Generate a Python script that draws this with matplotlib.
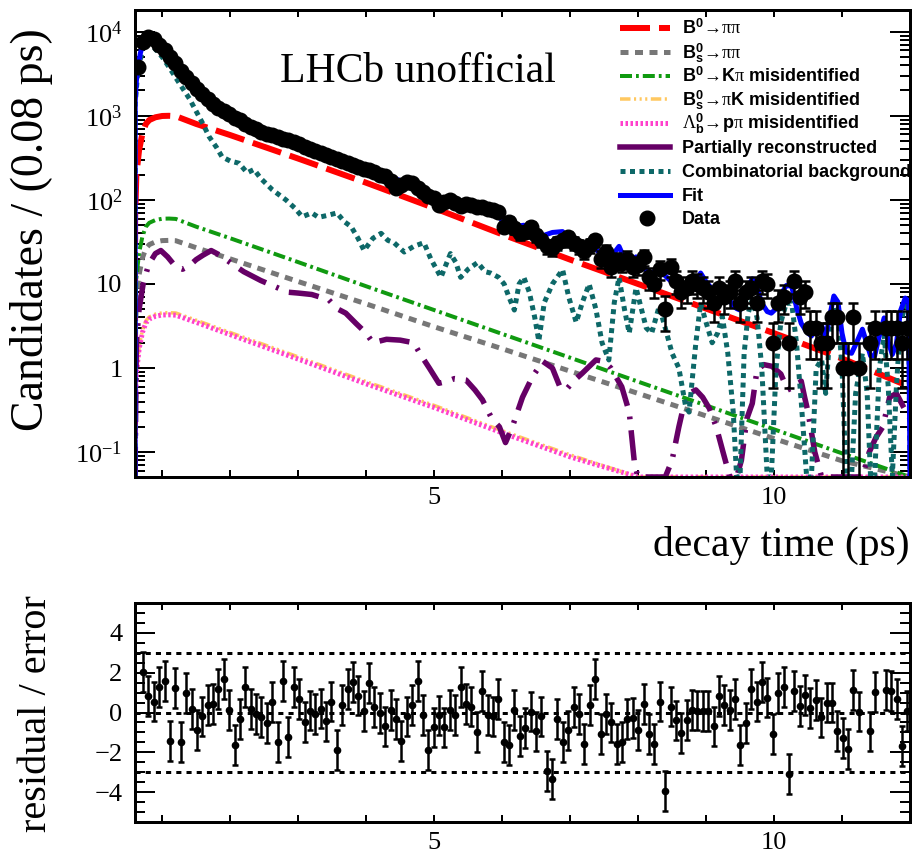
import numpy as np
import matplotlib
matplotlib.use("Agg")
import matplotlib.pyplot as plt
from matplotlib.lines import Line2D
from matplotlib.ticker import MultipleLocator, FuncFormatter, LogLocator, NullFormatter

plt.rcParams.update({
    "font.family": "serif",
    "font.serif": ["Liberation Serif", "DejaVu Serif"],
    "font.sans-serif": ["Liberation Sans", "DejaVu Sans"],
    "mathtext.fontset": "custom",
    "mathtext.rm": "Liberation Serif",
    "mathtext.it": "Liberation Serif:italic",
    "mathtext.bf": "Liberation Sans:bold",
    "mathtext.sf": "Liberation Sans",
})

SERIF = ["Liberation Serif", "DejaVu Serif"]

# ---------------- histogram of decay times ----------------
t_min, t_max, n_bins = 0.6, 12.0, 144

counts = [
    3760, 7600, 8700, 8200, 6900, 6000, 5000, 4200, 3450, 2900,
    2450, 2100, 1800, 1580, 1400, 1250, 1130, 1040, 950, 880,
    800, 740, 690, 650, 610, 590, 560, 530, 510, 485,
    460, 430, 405, 385, 360, 340, 325, 305, 290, 272,
    262, 248, 236, 225, 215, 200, 190, 170, 138, 150,
    162, 158, 140, 125, 112, 105, 88, 95, 100, 92,
    85, 90, 87, 83, 83, 78, 75, 72, 48, 55,
    46, 40, 42, 48, 38, 33, 28, 27, 31, 33,
    36, 31, 28, 25, 29, 33, 20, 24, 16, 19,
    18, 20, 16, 17, 21, 12, 10, 15, 5, 16,
    11, 8, 9, 11, 10, 9, 8, 6, 9, 7,
    8, 11, 6, 8, 9, 6, 11, 10, 2, 6,
    7, 2, 11, 7, 8, 3, 3, 2, 2, 4,
    4, 1, 1, 4, 1, 0, 2, 3, 0, 3,
    3, 3, 2, 3,
]

# pulls for bins 1..143 (nan where the bin is empty)
pulls = [
    2.05, 0.83, 0.55, 1.27, 1.58, -1.42, 1.22, -1.5, 1.0, 0.17,
    -0.87, -0.2, 0.38, 0.43, 1.17, 1.67, 0.13, -1.65, -0.33, 1.3,
    0.18, -0.08, -0.23, -0.53, 0.53, -1.5, 1.6, -1.23, 1.27, 0.67,
    -0.47, 0.1, -0.08, 0.2, -0.45, 0.55, -1.87, 0.38, 1.17, 1.55,
    0.85, 0.08, 1.5, 0.27, -0.03, -0.7, 0.13, -0.32, -1.45, -0.2,
    0.38, 1.6, -0.12, -1.87, -0.75, -0.15, -0.75, 0.13, -0.12, 1.3,
    0.42, 0.3, -0.97, 1.1, -0.12, -0.2, 0.67, -1.5, -1.65, 0.13,
    -1.2,
    -0.78, 0.05, -0.95, -0.2, -2.95, -3.32, -0.32, -1.48, -0.9, 0.27,
    -0.07, -1.58, 0.37, 1.67, -1.07, -0.07, -0.5, -1.57, -1.5, -0.33,
    -0.28, -0.87, 0.42, -1.07, -1.57, 0.55, -3.95, 0.3, -0.4, -1.03,
    -0.37, 0.13, 0.1, 0.08, 0.08, -0.7, 0.83, 0.38, 0.13, 0.67,
    -1.65, -0.53, 1.17, 0.55, 1.55, 0.75, -1.08, 1.0, 1.27, -3.07,
    1.1, 0.33, 0.88, 0.22, 0.63, -0.25, 0.5, 0.5, -0.92, -1.28,
    -1.83, 1.13, 0.05, np.nan, -0.95, 1.05, np.nan, 1.13, 1.1, 0.67,
    -1.67, 0.08,
]

# ---------------- fit components ----------------
curve_t = [0.600, 0.602, 0.62, 0.66, 0.71, 0.76, 0.81, 0.9, 1.0, 1.1, 1.2, 1.5,
           2.0, 3.0, 4.0, 5.0, 6.0, 7.0, 8.0, 9.0, 10.0, 11.0, 12.0]
bd_pipi = [0.001, 60, 200, 390, 620, 800, 890, 960, 995, 1000, 990, 800,
           590, 310, 160, 80, 39, 19.5, 10, 5.1, 2.6, 1.3, 0.6]
bs_pipi = [0.001, 2, 6.6, 12.9, 20.5, 26.4, 29.4, 31.7, 32.8, 33, 32.7, 27,
           19.9, 10.7, 5.8, 3.1, 1.7, 0.92, 0.5, 0.27, 0.145, 0.079, 0.042]
bd_kpi = [0.001, 3.6, 12, 23.4, 37, 48, 53.4, 57.6, 59.7, 60, 59.4, 48,
          35, 18.2, 9.4, 4.9, 2.55, 1.33, 0.69, 0.36, 0.187, 0.097, 0.05]
bs_pik = [0.001, 0.28, 0.91, 1.78, 2.83, 3.65, 4.06, 4.38, 4.54, 4.56, 4.52, 3.71,
          2.65, 1.36, 0.69, 0.36, 0.18, 0.093, 0.048, 0.024, 0.013, 0.0064, 0.0032]
lb_ppi = [0.001, 0.26, 0.86, 1.68, 2.67, 3.44, 3.83, 4.13, 4.28, 4.3, 4.26, 3.5,
          2.5, 1.28, 0.65, 0.34, 0.17, 0.088, 0.045, 0.023, 0.012, 0.006, 0.003]

partreco_t = [0.600, 0.62, 0.66, 0.72, 0.8, 0.9, 0.98, 1.08, 1.2, 1.3,
              1.4, 1.5, 1.6, 1.72, 1.85, 2.0, 2.2, 2.45, 2.7, 2.84,
              3.0, 3.2, 3.45, 3.57, 3.7, 3.85, 4.0, 4.1, 4.3, 4.5,
              4.7, 4.8, 4.93, 5.07, 5.2, 5.3, 5.47, 5.6, 5.71, 5.85,
              5.96, 6.05, 6.15, 6.3, 6.45, 6.6, 6.74, 6.85, 6.94, 7.05,
              7.18, 7.38, 7.5, 7.6, 7.76, 7.87, 7.95, 8.0, 8.4, 8.5,
              8.6, 8.65, 8.75, 8.85, 8.95, 9.05, 9.15, 9.25, 9.35, 9.45,
              9.52, 9.6, 9.68, 9.75, 9.85, 9.97, 10.1, 10.2, 10.3, 10.4,
              10.45, 10.5, 10.6, 10.7, 11.3, 11.4, 11.5, 11.6, 11.7, 11.8,
              11.9, 12.0]
partreco = [0.001, 2, 5, 10, 17, 23, 25, 21, 16, 15,
            16.5, 19.5, 22, 25, 22, 18, 14, 11, 9, 8,
            7.8, 7.5, 6.5, 5.1, 4.5, 3.4, 2.6, 2.0, 2.2, 2.15,
            2.0, 1.45, 1.0, 0.66, 0.7, 0.75, 0.72, 0.55, 0.42, 0.25,
            0.2, 0.13, 0.2, 0.45, 0.8, 1.2, 1.0, 0.6, 0.55, 0.7,
            0.87, 1.25, 1.2, 1.0, 0.6, 0.3, 0.07, 0.03, 0.03, 0.08,
            0.2, 0.3, 0.5, 0.55, 0.45, 0.33, 0.2, 0.1, 0.05, 0.03,
            0.08, 0.25, 0.38, 0.95, 1.1, 1.05, 0.85, 0.55, 0.6, 0.7,
            0.45, 0.3, 0.1, 0.04, 0.04, 0.1, 0.15, 0.2, 0.45, 0.5,
            0.35, 0.25]

comb_t = [0.600, 0.603, 0.64, 0.72, 0.80, 0.90, 1.0, 1.1, 1.25, 1.4,
          1.49, 1.6, 1.69, 1.8, 1.88, 2.0, 2.13, 2.25, 2.35, 2.45,
          2.62, 2.72, 2.82, 2.95, 3.06, 3.2, 3.3, 3.45, 3.57, 3.68,
          3.78, 3.88, 3.97, 4.1, 4.22, 4.32, 4.41, 4.56, 4.7, 4.85,
          4.95, 5.1, 5.24, 5.32, 5.39, 5.5, 5.64, 5.75, 5.83, 5.95,
          6.03, 6.1, 6.18, 6.25, 6.32, 6.4, 6.48, 6.54, 6.62, 6.74,
          6.89, 6.98, 7.09, 7.18, 7.28, 7.38, 7.47, 7.57, 7.65, 7.72,
          7.8, 7.87, 7.97, 8.05, 8.12, 8.2, 8.31, 8.4, 8.5, 8.6,
          8.7, 8.75, 8.85, 8.92, 9.0, 9.09, 9.17, 9.24, 9.32, 9.4,
          9.45, 9.5, 9.56, 9.62, 9.68, 9.75, 9.82, 9.9, 9.96, 10.03,
          10.1, 10.18, 10.26, 10.33, 10.4, 10.48, 10.55, 10.62, 10.7, 10.76,
          10.82, 10.88, 10.94, 11.0, 11.06, 11.14, 11.2, 11.3, 11.37, 11.42,
          11.48, 11.55, 11.62, 11.68, 11.74, 11.8, 11.86, 11.93, 11.98, 12.0]
comb = [0.001, 1400, 3300, 6700, 7600, 6200, 5000, 3800, 2450, 1600,
        1170, 800, 565, 420, 325, 290, 273, 210, 230, 180,
        132, 115, 100, 80, 63, 70, 62, 66, 70, 55,
        48, 35, 25, 35, 40, 33, 31, 24, 28, 31,
        20, 12, 23, 18, 12, 15, 18, 14, 13.5, 12,
        10, 7, 4.9, 10, 12, 8, 4, 2.1, 6, 10,
        14.8, 7, 3.5, 6, 10, 5, 2, 1.25, 6, 12,
        5, 2.6, 9, 5, 3, 2.6, 5.4, 3, 1.5, 1.0,
        0.35, 0.3, 2, 5.9, 3.5, 2.0, 2.6, 4.1, 1.5, 0.3,
        0.04, 0.04, 1.5, 4.5, 6.5, 4, 1.0, 0.04, 0.04, 1.0,
        3.5, 5.9, 5.9, 2, 0.4, 0.04, 0.04, 1.0, 1.26, 0.5,
        2.5, 5.5, 4.5, 1.0, 0.04, 0.04, 0.5, 1.5, 0.5, 0.04,
        0.04, 1.0, 2.5, 0.6, 0.04, 0.6, 3.5, 5.5, 5, 0.001]

fit_t = [0.600, 0.603, 0.62, 0.64, 0.68, 0.72, 0.76, 0.80, 0.85, 0.90,
         1.0, 1.1, 1.2, 1.3, 1.4, 1.5, 1.6, 1.8, 2.0, 2.25,
         2.5, 2.75, 3.0, 3.25, 3.5, 3.75, 4.0, 4.25, 4.5, 4.75,
         4.95, 5.1, 5.24, 5.32, 5.39, 5.5, 5.64, 5.75, 5.83, 5.95,
         6.03, 6.1, 6.18, 6.25, 6.32, 6.4, 6.48, 6.54, 6.62, 6.74,
         6.89, 6.98, 7.09, 7.18, 7.28, 7.38, 7.47, 7.57, 7.65, 7.72,
         7.8, 7.87, 7.97, 8.05, 8.12, 8.2, 8.31, 8.4, 8.5, 8.6,
         8.7, 8.75, 8.85, 8.92, 9.0, 9.09, 9.17, 9.24, 9.32, 9.4,
         9.45, 9.5, 9.56, 9.62, 9.68, 9.75, 9.82, 9.9, 9.96, 10.03,
         10.1, 10.18, 10.26, 10.33, 10.4, 10.48, 10.55, 10.62, 10.7, 10.76,
         10.82, 10.88, 10.94, 11.0, 11.06, 11.14, 11.2, 11.3, 11.37, 11.42,
         11.48, 11.55, 11.62, 11.68, 11.74, 11.8, 11.86, 11.93, 11.98, 12.0]
fit = [0.001, 1500, 2600, 3700, 5600, 7300, 8300, 8600, 8300, 7700,
       6300, 5100, 4200, 3400, 2800, 2300, 1900, 1380, 1060, 820,
       650, 555, 470, 390, 330, 275, 235, 200, 170, 152,
       115, 100, 103, 95, 85, 84, 82, 72, 68, 62,
       56, 50, 46, 49, 50, 44, 38, 35, 38, 41,
       42, 32, 27, 29, 32, 26, 22, 20, 23.5, 28,
       20, 16.5, 21, 17, 14.5, 13.5, 15.5, 12.5, 10.5, 9.6,
       8.8, 8.6, 9.9, 13.5, 10.6, 8.7, 8.7, 9.9, 7.0, 5.5,
       5.1, 4.9, 6.4, 9.4, 11.5, 9.0, 5.9, 4.7, 4.5, 5.1,
       7.4, 9.6, 9.4, 5.3, 3.4, 2.7, 2.4, 3.1, 3.2, 2.3,
       4.2, 7.2, 6.1, 2.6, 1.55, 1.5, 1.9, 2.9, 1.9, 1.4,
       1.4, 2.45, 3.95, 2.05, 1.45, 1.95, 4.8, 6.8, 6.2, 0.001]

labels = [
    r"$\mathbf{B}^{\mathbf{0}}\!\rightarrow\!\mathrm{\pi\pi}$",
    r"$\mathbf{B}_{\mathbf{s}}^{\mathbf{0}}\!\rightarrow\!\mathrm{\pi\pi}$",
    r"$\mathbf{B}^{\mathbf{0}}\!\rightarrow\!\mathbf{K}\mathrm{\pi}$ misidentified",
    r"$\mathbf{B}_{\mathbf{s}}^{\mathbf{0}}\!\rightarrow\!\mathrm{\pi}\mathbf{K}$ misidentified",
    r"$\mathrm{\Lambda}_{\mathbf{b}}^{\mathbf{0}}\!\rightarrow\!\mathbf{p}\mathrm{\pi}$ misidentified",
    "Partially reconstructed",
    "Combinatorial background",
    "Fit",
    "Data",
]

# ---------------- figure layout (pixel boxes) ----------------
W, H = 913, 856
fig = plt.figure(figsize=(W / 100, H / 100), dpi=100)


def box(l, t, r, b):
    return fig.add_axes([l / W, 1 - b / H, (r - l) / W, (b - t) / H])


ax = box(135, 10, 910, 477)
axr = box(135, 603, 910, 822)

y_lo, y_hi = 10 ** -1.295, 10 ** 4.258


def pt(px):
    return px * 72.0 / 100.0


styles = [
    dict(color="#ff0000", lw=pt(6), dashes=(5, 1.5)),
    dict(color="#777777", lw=pt(5), dashes=(1.6, 1.3)),
    dict(color="#109a10", lw=pt(4), dashes=(3, 1, 0.7, 1)),
    dict(color="#ffc860", lw=pt(3.5), dashes=(3, 1, 0.6, 1, 0.6, 1, 0.6, 1)),
    dict(color="#ff40cc", lw=pt(5), dashes=(0.5, 0.5)),
    dict(color="#660066", lw=pt(5.5), dashes=(5.5, 2, 0.5, 2)),
    dict(color="#0d6868", lw=pt(5), dashes=(1, 0.9)),
    dict(color="#0000ff", lw=pt(5)),
]

comp_series = [
    (curve_t, bd_pipi), (curve_t, bs_pipi), (curve_t, bd_kpi),
    (curve_t, bs_pik), (curve_t, lb_ppi), (partreco_t, partreco),
    (comb_t, comb), (fit_t, fit),
]
# draw order: smooth components, background shapes, total fit
order = [4, 3, 1, 2, 0, 5, 6, 7]
for k in order:
    tt, yy = comp_series[k]
    yy = np.clip(np.asarray(yy, float), y_lo, None)
    ax.plot(tt, yy, solid_capstyle="butt", dash_capstyle="butt", zorder=2 + k * 0.1, **styles[k])

# data points with Poisson (sqrt N) errors
edges = np.linspace(t_min, t_max, n_bins + 1)
centers = 0.5 * (edges[:-1] + edges[1:])
n = np.asarray(counts, float)
good = n > 0
err = np.sqrt(n)
low = np.minimum(err, n - 1e-3)
ax.errorbar(centers[good], n[good], yerr=[low[good], err[good]], fmt="o", color="black",
            ms=10.5, elinewidth=pt(2.5), capsize=3.5, capthick=pt(2.5), zorder=5)

ax.set_yscale("log")
ax.set_xlim(t_min, t_max)
ax.set_ylim(y_lo, y_hi)


def log_label(v, pos):
    e = int(round(np.log10(v)))
    if e == 0:
        return "1"
    if e == 1:
        return "10"
    return r"$10^{%d}$" % e


ax.yaxis.set_major_locator(LogLocator(base=10, numticks=20))
ax.yaxis.set_minor_locator(LogLocator(base=10, subs=np.arange(2, 10), numticks=20))
ax.yaxis.set_major_formatter(FuncFormatter(log_label))
ax.yaxis.set_minor_formatter(NullFormatter())

axr.set_xlim(t_min, t_max)
axr.set_ylim(-5.5, 5.5)
axr.yaxis.set_major_locator(MultipleLocator(2))
axr.yaxis.set_minor_locator(MultipleLocator(0.5))
axr.yaxis.set_major_formatter(FuncFormatter(lambda v, pos: "%d" % v if v >= 0 else "\u2212%d" % (-v)))

for a in (ax, axr):
    a.xaxis.set_major_locator(MultipleLocator(5))
    a.xaxis.set_minor_locator(MultipleLocator(1))
    a.tick_params(which="both", direction="in", top=True, right=True, width=pt(2),
                  labelsize=19, labelfontfamily="serif")
    a.tick_params(axis="x", which="both", length=pt(7), pad=7)
    a.tick_params(axis="y", which="major", length=pt(20), pad=9)
    a.tick_params(axis="y", which="minor", length=pt(10))
    for s in a.spines.values():
        s.set_linewidth(pt(3))
        s.set_zorder(10)

# ---------------- legend ----------------
row_px = [28, 52, 76, 99, 123, 147, 171, 195, 218]
hx0, hx1, tx = 620, 670, 682
for i, lab in enumerate(labels):
    yc = 1 - (row_px[i] - 10) / 467.0
    x0 = (hx0 - 135) / 775.0
    x1 = (hx1 - 135) / 775.0
    if i < 8:
        st = dict(styles[i])
        if i == 5:
            st.pop("dashes")
        ax.add_line(Line2D([x0, x1], [yc, yc], transform=ax.transAxes, clip_on=False, zorder=6, **st))
    else:
        ax.plot([(647 - 135) / 775.0], [yc], "o", color="black", ms=10.5,
                transform=ax.transAxes, clip_on=False, zorder=6)
    ax.text((tx - 135) / 775.0, yc - 6.5 / 467.0, lab, transform=ax.transAxes,
            fontsize=13, fontweight="bold", family=["Liberation Sans", "DejaVu Sans"],
            ha="left", va="baseline", zorder=7)

fig.text(280 / W, 1 - 82 / H, "LHCb unofficial", fontsize=30, ha="left", va="baseline",
         family=SERIF)

# ---------------- residual panel ----------------
pull_t = centers[1:]
p = np.asarray(pulls, float)
for yv in (3, 0, -3):
    axr.axhline(yv, color="black", lw=pt(3), dashes=(1.7, 1.7), zorder=1)
ok = ~np.isnan(p)
axr.errorbar(pull_t[ok], p[ok], yerr=1.0, fmt="o", color="black", ms=4.5,
             elinewidth=pt(2.5), capsize=2.5, capthick=pt(2.5), zorder=3)

# ---------------- axis titles ----------------
fig.text(32 / W, 1 - 230 / H, "Candidates / (0.08 ps)", rotation=90, fontsize=33,
         ha="center", va="center", family=SERIF)
fig.text(910 / W, 1 - 545 / H, "decay time (ps)", fontsize=30, ha="right", va="center",
         family=SERIF)
fig.text(36 / W, 1 - 714 / H, "residual / error", rotation=90, fontsize=29,
         ha="center", va="center", family=SERIF)

fig.savefig("out.png", dpi=100)
